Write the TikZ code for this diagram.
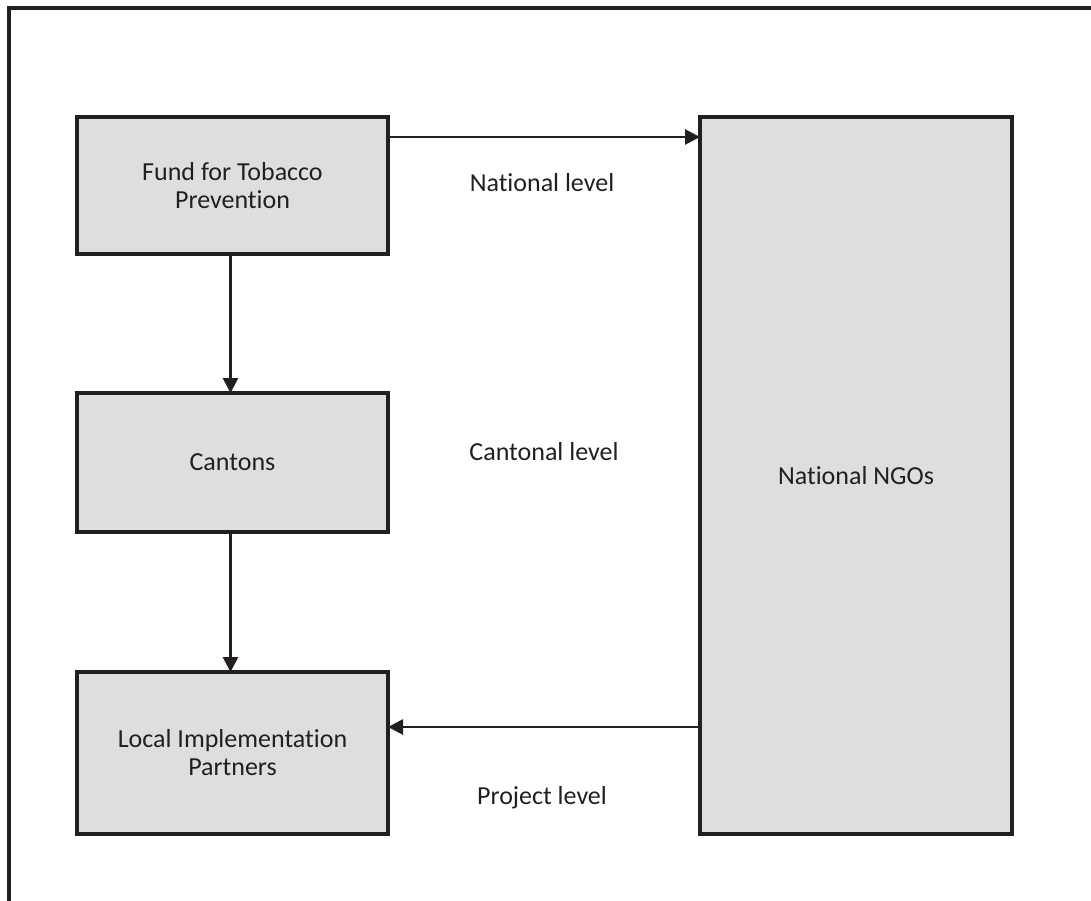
\documentclass[tikz,border=0pt]{standalone}
\usepackage{fontspec}
\setmainfont{Carlito}[Ligatures=CommonOff]
\usepackage{xcolor}
\usetikzlibrary{arrows.meta,positioning}
\definecolor{boxgray}{RGB}{221,222,224}
\definecolor{inkdark}{RGB}{35,31,32}

\begin{document}
\begin{tikzpicture}[
        x=1pt, y=-1pt,
        font=\fontsize{26}{28}\selectfont,
        text=inkdark,
        box/.style={rectangle, draw=inkdark, line width=3.2pt, fill=boxgray,
                    minimum width=311pt, align=center, inner sep=0pt, outer sep=0pt},
        lvl/.style={inner sep=0pt},
        a/.style={-{Triangle[length=15pt, width=15pt]}, draw=inkdark, line width=2.8pt}
    ]
        \useasboundingbox (0,0) rectangle (1091,901);
        % outer frame (left and top edges only)
        \draw[inkdark, line width=3.5pt] (9,901) |- (1091,8);

        \node[box, minimum height=137pt, anchor=north west] (fund) at (77,117) {Fund for Tobacco\\Prevention};
        \node[box, minimum height=139pt, below=139pt of fund] (cantons) {Cantons};
        \node[box, minimum height=162pt, below=140pt of cantons] (local) {Local Implementation\\Partners};
        \node[box, minimum width=312pt, minimum height=717pt, anchor=north west] (ngos) at (700,117) {National NGOs};

        \node[lvl] (natl) at (542,183) {National level};
        \node[lvl] (cant) at (544,452) {Cantonal level};
        \node[lvl] (proj) at (542,798) {Project level};

        \coordinate (pj) at ([yshift=26pt]local.east);
        \draw[a] ([yshift=-20pt]fund.north east) -- ([yshift=-20pt]ngos.north west);
        \draw[a] ([xshift=-2pt]fund.south) -- ([xshift=-2pt]cantons.north);
        \draw[a] ([xshift=-2pt]cantons.south) -- ([xshift=-2pt]local.north);
        \draw[a] (pj -| ngos.west) -- (pj);
    \end{tikzpicture}
\end{document}
